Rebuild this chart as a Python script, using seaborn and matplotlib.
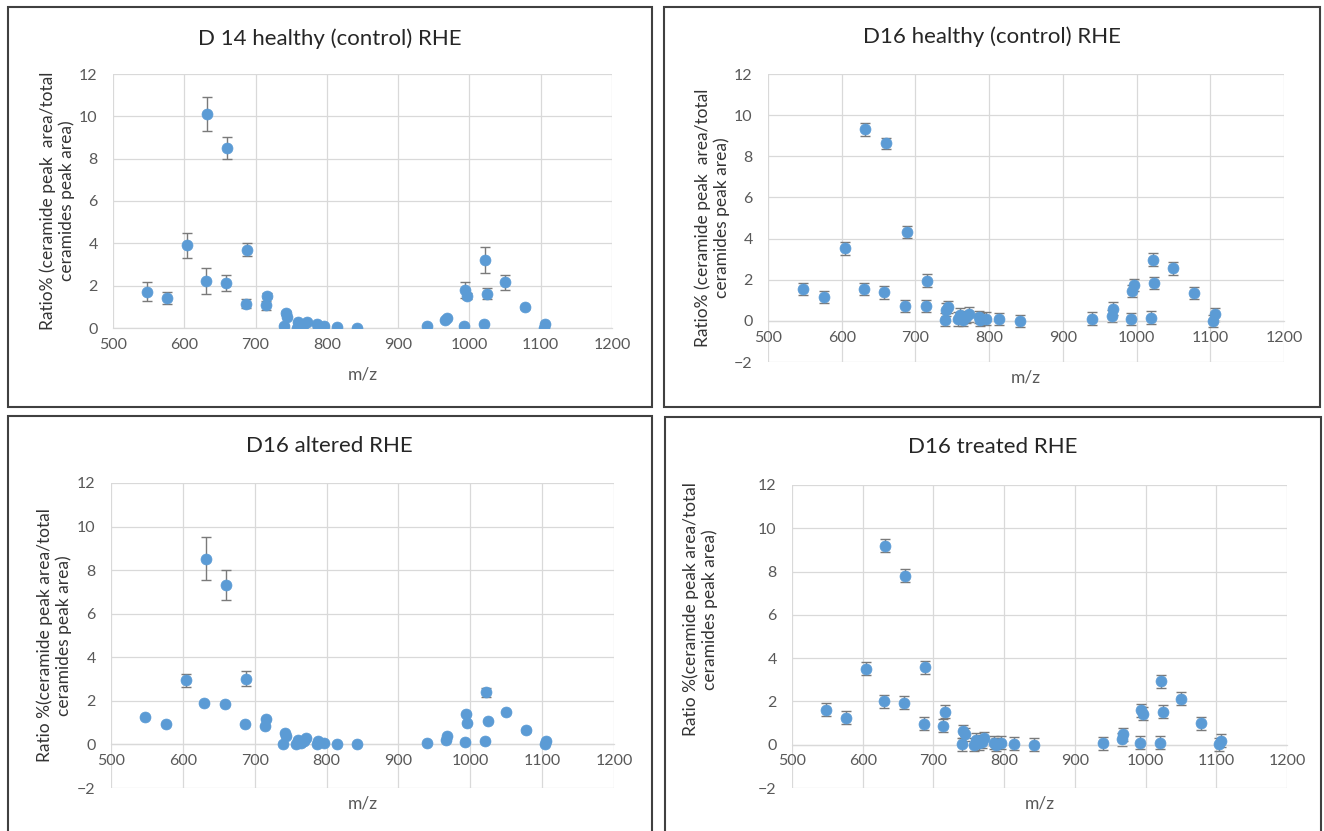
"""
Ceramide ratio vs m/z, four RHE conditions (2x2 Excel-style scatter panels).
"""
import matplotlib
matplotlib.use("Agg")
import matplotlib.pyplot as plt
from matplotlib.patches import Rectangle
import seaborn as sns

# ── Data ────────────────────────────────────────────────────────────────
mz = [548, 576, 604, 630, 632, 658, 660, 686, 688, 714, 716, 740, 742, 744,
      758, 760, 764, 768, 772, 786, 788, 796, 814, 842, 940, 966, 968, 992,
      994, 996, 1020, 1022, 1024, 1050, 1078, 1104, 1106]

d14_healthy = [1.72, 1.40, 3.90, 2.22, 10.12, 2.13, 8.52, 1.15, 3.70, 1.07, 1.53, 0.08, 0.71, 0.52,
               0.02, 0.27, 0.10, 0.20, 0.27, 0.20, 0.02, 0.10, 0.05, 0.01, 0.10, 0.38, 0.48, 0.10,
               1.80, 1.52, 0.18, 3.20, 1.62, 2.15, 0.97, 0.02, 0.18]
d14_healthy_err = [0.45, 0.28, 0.58, 0.60, 0.80, 0.38, 0.52, 0.22, 0.30, 0.20, 0.10, 0.05, 0.08, 0.05,
                   0.03, 0.05, 0.03, 0.05, 0.05, 0.05, 0.02, 0.03, 0.03, 0.02, 0.03, 0.05, 0.05, 0.03,
                   0.38, 0.15, 0.05, 0.62, 0.25, 0.35, 0.08, 0.02, 0.05]

d16_healthy = [1.54, 1.17, 3.52, 1.54, 9.31, 1.38, 8.63, 0.73, 4.33, 0.73, 1.96, 0.06, 0.55, 0.68,
               0.08, 0.28, 0.03, 0.19, 0.31, 0.19, 0.06, 0.11, 0.08, 0.00, 0.11, 0.24, 0.60, 0.08,
               1.44, 1.73, 0.16, 2.98, 1.85, 2.55, 1.36, 0.00, 0.31]
d16_healthy_err = [0.30, 0.28, 0.30, 0.30, 0.30, 0.30, 0.28, 0.30, 0.30, 0.30, 0.30, 0.30, 0.30, 0.30,
                   0.35, 0.35, 0.30, 0.30, 0.35, 0.30, 0.30, 0.30, 0.30, 0.30, 0.30, 0.30, 0.30, 0.30,
                   0.30, 0.30, 0.30, 0.30, 0.30, 0.30, 0.30, 0.30, 0.30]

d16_altered = [1.26, 0.95, 2.94, 1.91, 8.53, 1.87, 7.30, 0.95, 3.02, 0.84, 1.18, 0.03, 0.52, 0.37,
               0.00, 0.21, 0.06, 0.14, 0.31, 0.00, 0.14, 0.06, 0.03, 0.00, 0.06, 0.21, 0.37, 0.09,
               1.38, 1.00, 0.14, 2.39, 1.07, 1.47, 0.64, 0.00, 0.14]
d16_altered_err = [0.05, 0.05, 0.30, 0.05, 0.98, 0.05, 0.69, 0.05, 0.35, 0.05, 0.05, 0.02, 0.05, 0.05,
                   0.02, 0.03, 0.02, 0.02, 0.03, 0.02, 0.02, 0.02, 0.02, 0.02, 0.02, 0.03, 0.03, 0.02,
                   0.05, 0.05, 0.02, 0.20, 0.05, 0.05, 0.05, 0.02, 0.02]

d16_treated = [1.62, 1.24, 3.51, 2.01, 9.20, 1.93, 7.80, 0.96, 3.58, 0.88, 1.53, 0.03, 0.62, 0.49,
               0.00, 0.23, 0.06, 0.14, 0.29, 0.09, 0.00, 0.09, 0.05, 0.00, 0.06, 0.26, 0.49, 0.09,
               1.60, 1.42, 0.09, 2.93, 1.53, 2.13, 0.99, 0.03, 0.19]
d16_treated_err = [0.30] * len(mz)

titles = ["D 14 healthy (control) RHE", "D16 healthy (control) RHE",
          "D16 altered RHE", "D16 treated RHE"]
ylabels = ["Ratio% (ceramide peak  area/total\nceramides peak area)",
           "Ratio% (ceramide peak  area/total\nceramides peak area)",
           "Ratio %(ceramide peak area/total\nceramides peak area)",
           "Ratio %(ceramide peak area/total\nceramides peak area)"]
x_ticks = [500, 600, 700, 800, 900, 1000, 1100, 1200]

# ── Style ───────────────────────────────────────────────────────────────
sns.set_theme(style="white")
plt.rcParams["font.family"] = ["Lato", "DejaVu Sans"]

BLUE = "#5b9bd5"
GRID = "#d9d9d9"
TXT = "#595959"

W, H = 1324, 831
fig = plt.figure(figsize=(W / 100, H / 100), dpi=100)


def px_rect(l, r, t, b):
    return [l / W, 1 - b / H, (r - l) / W, (b - t) / H]


# panel frames (pixels: left, right, top, bottom)
frames = [(8, 652, 7, 407), (664, 1320, 7, 407), (8, 652, 416, 840), (665, 1321, 417, 840)]
for l, r, t, b in frames:
    fig.patches.append(Rectangle((l / W, 1 - b / H), (r - l) / W, (b - t) / H,
                                 transform=fig.transFigure, fill=False,
                                 edgecolor="#404040", linewidth=1.5))

axes_px = [(113, 612, 74, 328), (768, 1284, 74, 362), (111, 614, 483, 788), (792, 1287, 485, 788)]
title_px = [(330, 39), (992, 37), (329, 446), (993, 447)]
ylims = [(0, 12), (-2, 12), (-2, 12), (-2, 12)]
ylab_pos = [(-0.112, 0.5), (-0.108, 0.5), (-0.113, 0.5), (-0.186, 0.59)]
xlab_y = [-0.15, -0.025, -0.024, -0.024]

series = [(d14_healthy, d14_healthy_err), (d16_healthy, d16_healthy_err),
          (d16_altered, d16_altered_err), (d16_treated, d16_treated_err)]

for i, (vals, errs) in enumerate(series):
    ax = fig.add_axes(px_rect(*axes_px[i]))
    ax.errorbar(mz, vals, yerr=errs, fmt="none", ecolor="#7a7a7a",
                elinewidth=1.0, capsize=3.5, capthick=1.0, zorder=2)
    sns.scatterplot(x=mz, y=vals, ax=ax, color=BLUE, s=62,
                    edgecolor=BLUE, linewidth=0.5, zorder=3)

    lo, hi = ylims[i]
    ax.set_xlim(500, 1200)
    ax.set_ylim(lo, hi)
    ax.set_xticks(x_ticks)
    ax.set_yticks(range(lo, hi + 1, 2))
    ax.grid(True, color=GRID, linewidth=0.9)
    ax.set_axisbelow(True)
    for s in ["top", "right", "left"]:
        ax.spines[s].set_visible(False)
    ax.spines["bottom"].set_position(("data", 0))
    ax.spines["bottom"].set_color(GRID)
    ax.spines["bottom"].set_linewidth(0.9)
    ax.tick_params(axis="both", length=0, labelsize=11.5, colors=TXT)
    ax.tick_params(axis="x", pad=7)
    ax.tick_params(axis="y", pad=11)

    ax.set_xlabel("m/z", fontsize=12.5, color=TXT)
    ax.xaxis.set_label_coords(0.5, xlab_y[i])
    ax.set_ylabel(ylabels[i], fontsize=12.5, color="#333333", linespacing=1.15)
    ax.yaxis.set_label_coords(*ylab_pos[i])
    ax.yaxis.label.set_verticalalignment("center")

    tx, ty = title_px[i]
    fig.text(tx / W, 1 - ty / H, titles[i], ha="center", va="center",
             fontsize=16, color="#262626")

fig.savefig("out.png", dpi=100)
